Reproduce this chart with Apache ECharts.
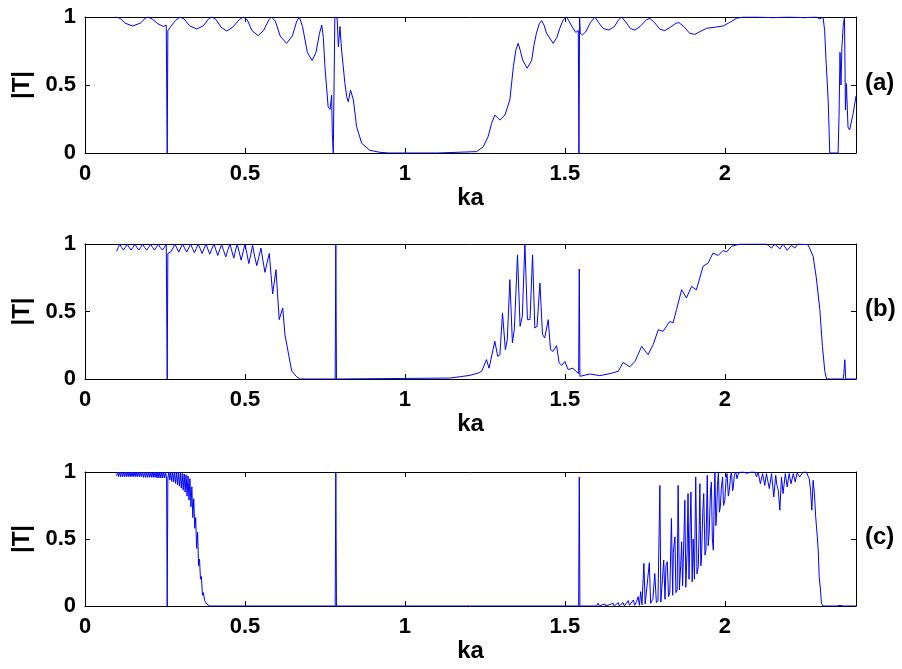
<!DOCTYPE html>
<html><head><meta charset="utf-8">
<script src="https://cdn.jsdelivr.net/npm/echarts@6/dist/echarts.min.js"></script>
<style>html,body{margin:0;padding:0;background:#fff}#c{width:902px;height:669px}</style>
</head><body><div id="c"></div>
<script>
// Panel (a)
var xA = [0.097,0.11,0.125,0.149,0.173,0.188,0.197,0.21,0.228,0.245,0.254,0.257,0.259,0.268,0.283,0.297,0.31,0.327,0.349,0.37,0.386,0.396,0.41,0.425,0.443,0.462,0.482,0.495,0.507,0.522,0.541,0.558,0.575,0.583,0.595,0.61,0.63,0.648,0.662,0.67,0.68,0.695,0.71,0.722,0.733,0.74,0.745,0.75,0.76,0.766,0.771,0.773,0.776,0.779,0.781,0.788,0.792,0.797,0.802,0.8125,0.818,0.823,0.830,0.833,0.839,0.849,0.865,0.89,0.922,0.95,1.1,1.224,1.245,1.26,1.271,1.281,1.297,1.3125,1.328,1.339,1.347,1.354,1.361,1.368,1.382,1.396,1.404,1.411,1.42,1.427,1.435,1.443,1.4635,1.475,1.484,1.495,1.505,1.513,1.521,1.534,1.542,1.544,1.546,1.548,1.555,1.565,1.58,1.594,1.605,1.62,1.638,1.655,1.668,1.677,1.688,1.705,1.719,1.735,1.755,1.766,1.78,1.797,1.8125,1.83,1.848,1.857,1.872,1.89,1.906,1.92,1.943,1.97,1.995,2.015,2.036,2.057,2.1,2.15,2.2,2.25,2.286,2.297,2.307,2.312,2.316,2.319,2.323,2.328,2.354,2.357,2.36,2.363,2.366,2.37,2.374,2.377,2.38,2.385,2.39,2.401,2.406,2.41];
var yA = [1.0,0.99,0.955,0.934,0.955,0.99,1.0,0.985,0.95,0.93,0.94,0.0,0.90,0.93,0.975,1.0,0.985,0.935,0.912,0.935,0.985,1.0,0.98,0.925,0.897,0.925,0.98,1.0,0.98,0.9,0.863,0.9,0.98,1.0,0.97,0.86,0.806,0.86,0.97,1.0,0.93,0.74,0.679,0.74,0.88,0.941,0.85,0.635,0.34,0.32,0.426,0.145,0.0,0.0,1.0,0.99,0.78,0.93,0.757,0.51,0.414,0.377,0.463,0.47,0.39,0.193,0.071,0.02,0.005,0.0,0.0,0.01,0.046,0.12,0.218,0.279,0.243,0.279,0.39,0.635,0.76,0.806,0.75,0.684,0.623,0.68,0.8,0.88,0.95,0.973,0.94,0.88,0.806,0.85,0.917,0.98,1.0,0.97,0.934,0.887,0.90,0.0,1.0,0.88,0.868,0.89,0.96,1.0,0.96,0.915,0.904,0.93,0.98,1.0,0.97,0.915,0.904,0.93,0.98,0.99,0.96,0.91,0.9,0.925,0.955,0.958,0.93,0.88,0.872,0.89,0.917,0.925,0.934,0.96,0.99,1.0,1.0,0.995,1.0,0.995,1.0,0.985,1.0,0.9,0.696,0.69,0.39,0.0,0.0,0.27,0.74,0.5,0.78,0.934,1.0,0.316,0.51,0.19,0.17,0.29,0.36,0.42];

// Panel (b)
var xB = [0.099,0.104,0.109,0.114,0.120,0.126,0.132,0.138,0.144,0.150,0.156,0.162,0.168,0.174,0.18,0.186,0.193,0.199,0.205,0.211,0.217,0.223,0.229,0.235,0.242,0.248,0.254,0.257,0.259,0.268,0.275,0.281,0.287,0.293,0.299,0.305,0.311,0.318,0.324,0.330,0.336,0.342,0.348,0.354,0.360,0.366,0.372,0.378,0.384,0.39,0.396,0.403,0.409,0.415,0.421,0.427,0.433,0.44,0.446,0.453,0.459,0.465,0.47,0.476,0.482,0.488,0.494,0.5,0.506,0.512,0.518,0.524,0.53,0.537,0.543,0.55,0.556,0.5625,0.569,0.576,0.5865,0.597,0.607,0.618,0.625,0.635,0.646,0.66,0.672,0.782,0.784,0.786,1.14,1.182,1.203,1.229,1.24,1.255,1.263,1.281,1.29,1.297,1.305,1.314,1.32,1.328,1.336,1.342,1.352,1.36,1.367,1.375,1.383,1.391,1.399,1.406,1.413,1.422,1.43,1.437,1.448,1.455,1.463,1.474,1.482,1.49,1.5,1.51,1.525,1.535,1.543,1.545,1.547,1.578,1.609,1.641,1.667,1.682,1.703,1.719,1.74,1.76,1.776,1.792,1.807,1.828,1.838,1.849,1.865,1.880,1.896,1.911,1.932,1.948,1.963,1.979,1.995,2.005,2.021,2.047,2.13,2.146,2.156,2.172,2.182,2.195,2.208,2.219,2.229,2.26,2.276,2.286,2.292,2.297,2.305,2.3125,2.318,2.37,2.372,2.375,2.378,2.41];
var yB = [0.946,0.975,1.0,0.975,0.955,0.975,1.0,0.975,0.955,0.975,1.0,0.975,0.955,0.975,1.0,0.975,0.955,0.975,1.0,0.975,0.955,0.975,1.0,0.975,0.955,0.975,1.0,0.0,0.93,0.94,0.97,1.0,0.97,0.94,0.97,1.0,0.97,0.94,0.97,1.0,0.967,0.935,0.967,1.0,0.965,0.93,0.965,1.0,0.962,0.925,0.962,1.0,0.957,0.915,0.957,1.0,0.952,0.905,0.952,1.0,0.947,0.895,0.947,1.0,0.94,0.88,0.94,1.0,0.93,0.855,0.92,0.99,0.91,0.84,0.9,0.97,0.88,0.79,0.86,0.93,0.63,0.81,0.44,0.526,0.33,0.2,0.06,0.02,0.0,0.0,1.0,0.0,0.007,0.02,0.027,0.044,0.057,0.143,0.08,0.28,0.168,0.18,0.49,0.217,0.29,0.736,0.267,0.366,0.92,0.39,0.465,1.0,0.44,0.44,0.92,0.378,0.39,0.711,0.33,0.304,0.44,0.217,0.205,0.247,0.12,0.1,0.13,0.07,0.08,0.057,0.04,0.815,0.02,0.037,0.025,0.04,0.057,0.123,0.09,0.13,0.242,0.18,0.255,0.365,0.353,0.427,0.415,0.514,0.662,0.6,0.686,0.66,0.835,0.86,0.933,0.915,0.953,0.94,0.983,1.0,1.0,0.97,1.0,0.963,1.0,0.953,0.99,0.97,1.0,0.995,0.91,0.748,0.735,0.514,0.242,0.057,0.0,0.0,0.04,0.143,0.0,0.0];

// Panel (c)
var xC = [0.099,0.102,0.105,0.108,0.111,0.114,0.117,0.120,0.123,0.126,0.129,0.132,0.135,0.138,0.141,0.144,0.147,0.150,0.153,0.156,0.159,0.162,0.165,0.168,0.171,0.174,0.177,0.180,0.183,0.186,0.189,0.192,0.195,0.198,0.201,0.204,0.207,0.210,0.213,0.216,0.219,0.222,0.225,0.228,0.231,0.234,0.237,0.240,0.243,0.246,0.249,0.252,0.255,0.257,0.259,0.262,0.265,0.268,0.271,0.274,0.277,0.280,0.283,0.286,0.289,0.292,0.295,0.298,0.301,0.304,0.307,0.310,0.313,0.316,0.319,0.322,0.325,0.328,0.331,0.334,0.337,0.340,0.343,0.346,0.349,0.352,0.355,0.358,0.361,0.364,0.367,0.370,0.374,0.38,0.39,0.782,0.784,0.786,1.543,1.545,1.547,1.599,1.604,1.608,1.625,1.628,1.651,1.654,1.667,1.67,1.682,1.686,1.698,1.702,1.714,1.718,1.724,1.729,1.733,1.737,1.741,1.747,1.751,1.757,1.764,1.768,1.775,1.781,1.786,1.791,1.797,1.800,1.805,1.809,1.813,1.816,1.820,1.824,1.828,1.833,1.837,1.839,1.844,1.847,1.851,1.854,1.858,1.862,1.865,1.868,1.872,1.875,1.878,1.882,1.885,1.888,1.891,1.894,1.898,1.901,1.905,1.909,1.913,1.917,1.920,1.922,1.925,1.927,1.931,1.934,1.938,1.941,1.945,1.948,1.951,1.955,1.958,1.961,1.964,1.967,1.969,1.972,1.974,1.977,1.980,1.983,1.986,1.989,1.993,1.996,2.0,2.004,2.007,2.011,2.014,2.018,2.021,2.024,2.026,2.030,2.034,2.038,2.042,2.05,2.057,2.07,2.08,2.094,2.099,2.104,2.111,2.118,2.125,2.130,2.139,2.146,2.153,2.159,2.163,2.167,2.172,2.177,2.182,2.189,2.195,2.201,2.207,2.214,2.220,2.226,2.234,2.245,2.255,2.260,2.264,2.268,2.272,2.276,2.280,2.284,2.289,2.292,2.295,2.299,2.302,2.307,2.35,2.36,2.37,2.41];
var yC = [0.97,1.0,0.965,1.0,0.965,1.0,0.965,1.0,0.965,1.0,0.965,1.0,0.965,1.0,0.965,1.0,0.965,1.0,0.965,1.0,0.965,1.0,0.965,1.0,0.965,1.0,0.965,1.0,0.96,1.0,0.96,1.0,0.96,1.0,0.96,1.0,0.96,1.0,0.96,1.0,0.96,1.0,0.955,1.0,0.955,1.0,0.955,1.0,0.955,1.0,0.955,1.0,0.955,0.0,0.95,1.0,0.94,1.0,0.93,1.0,0.925,1.0,0.915,1.0,0.905,1.0,0.895,0.995,0.88,0.99,0.865,0.985,0.85,0.98,0.82,0.97,0.79,0.95,0.74,0.89,0.66,0.8,0.58,0.66,0.43,0.55,0.3,0.35,0.2,0.22,0.08,0.1,0.04,0.015,0.0,0.0,1.0,0.0,0.0,0.963,0.0,0.0,0.02,0.0,0.015,0.0,0.02,0.0,0.025,0.0,0.025,0.0,0.04,0.005,0.045,0.005,0.032,0.07,0.005,0.107,0.01,0.318,0.015,0.02,0.323,0.02,0.05,0.243,0.025,0.04,0.9,0.03,0.2,0.342,0.05,0.3,0.33,0.07,0.1,0.653,0.08,0.4,0.516,0.1,0.12,0.9,0.12,0.3,0.479,0.15,0.5,0.789,0.14,0.4,0.839,0.2,0.55,0.85,0.18,0.5,0.2,0.963,0.24,0.293,0.6,0.913,0.3,0.35,0.7,0.839,0.38,0.417,0.975,0.45,0.541,0.85,0.926,0.5,0.417,0.8,1.0,0.6,0.665,0.9,1.0,0.7,0.74,0.88,0.963,0.75,0.789,0.95,0.988,0.82,0.864,0.97,1.0,0.86,0.876,0.98,1.0,0.95,0.988,1.0,1.0,0.99,1.0,1.0,0.963,1.0,0.913,0.988,0.9,0.988,0.876,0.988,0.814,0.975,0.9,0.864,0.715,0.963,0.839,0.988,0.888,0.988,0.913,0.988,0.926,0.993,0.963,1.0,1.0,0.97,0.95,0.864,0.715,0.938,0.839,0.665,0.516,0.417,0.218,0.119,0.02,0.0,0.0,0.005,0.0,0.0];

var xTicks = [0, 0.5, 1, 1.5, 2];
var yTicks = [0, 0.5, 1];
var panelLabels = ['(a)', '(b)', '(c)'];
var xName = 'ka';
var yName = '|T|';

function zip(xs, ys) { return xs.map(function (x, i) { return [x, ys[i]]; }); }

var FONT = '"Liberation Sans", Arial, sans-serif';
var grids = [
  {left: 85, width: 771, top: 17, height: 136},
  {left: 85, width: 771, top: 244, height: 135},
  {left: 85, width: 771, top: 472, height: 134}
];
var XMAX = 2.41;
var xAxes = [], yAxes = [], series = [], graphics = [];
var datasets = [zip(xA, yA), zip(xB, yB), zip(xC, yC)];
grids.forEach(function (g, i) {
  var lineStyle = {color: '#000', width: 1};
  xAxes.push({
    gridIndex: i, type: 'value', min: 0, max: XMAX, interval: 0.5, position: 'bottom',
    name: xName, nameLocation: 'middle', nameGap: 33,
    nameTextStyle: {fontFamily: FONT, fontWeight: 'bold', fontSize: 24, color: '#000'},
    axisLine: {show: true, onZero: false, lineStyle: lineStyle},
    axisTick: {show: true, inside: true, length: 5, lineStyle: lineStyle},
    axisLabel: {show: true, margin: 10, fontFamily: FONT, fontWeight: 'bold', fontSize: 22, color: '#000',
      showMaxLabel: false,
      formatter: function (v) { return xTicks.indexOf(+v.toFixed(2)) >= 0 ? String(+v.toFixed(2)) : ''; }},
    splitLine: {show: false}
  });
  xAxes.push({
    gridIndex: i, type: 'value', min: 0, max: XMAX, interval: 0.5, position: 'top',
    axisLine: {show: true, onZero: false, lineStyle: lineStyle},
    axisTick: {show: true, inside: true, length: 5, lineStyle: lineStyle},
    axisLabel: {show: false}, splitLine: {show: false}
  });
  yAxes.push({
    gridIndex: i, type: 'value', min: 0, max: 1, interval: 0.5, position: 'left',
    name: yName, nameLocation: 'middle', nameGap: 47, nameRotate: 90,
    nameTextStyle: {fontFamily: FONT, fontWeight: 'bold', fontSize: 24, color: '#000'},
    axisLine: {show: true, onZero: false, lineStyle: lineStyle},
    axisTick: {show: true, inside: true, length: 5, lineStyle: lineStyle},
    axisLabel: {show: true, margin: 9, fontFamily: FONT, fontWeight: 'bold', fontSize: 22, color: '#000'},
    splitLine: {show: false}
  });
  yAxes.push({
    gridIndex: i, type: 'value', min: 0, max: 1, interval: 0.5, position: 'right',
    axisLine: {show: true, onZero: false, lineStyle: lineStyle},
    axisTick: {show: true, inside: true, length: 5, lineStyle: lineStyle},
    axisLabel: {show: false}, splitLine: {show: false}
  });
  series.push({
    type: 'line', xAxisIndex: i * 2, yAxisIndex: i * 2, data: datasets[i],
    showSymbol: false, symbol: 'none', smooth: false, animation: false,
    lineStyle: {color: '#0000ff', width: 1}, clip: true
  });
  graphics.push({
    type: 'text', left: 865, top: g.top + g.height / 2 - 14,
    style: {text: panelLabels[i], font: 'bold 24px ' + FONT, fill: '#000'}
  });
});

var chart = echarts.init(document.getElementById('c'), null, {renderer: 'canvas'});
chart.setOption({
  backgroundColor: '#fff',
  animation: false,
  grid: grids,
  xAxis: xAxes,
  yAxis: yAxes,
  series: series,
  graphic: graphics
});
</script></body></html>
